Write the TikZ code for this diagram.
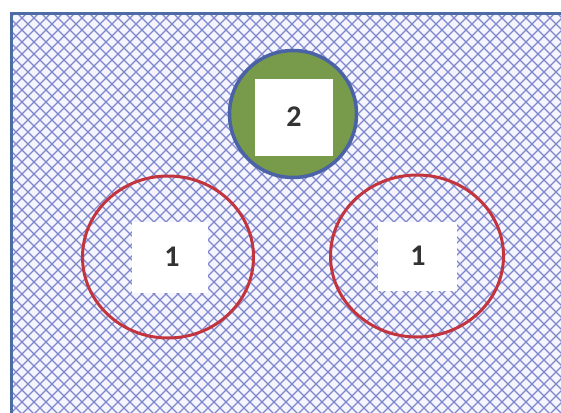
\documentclass[tikz,border=0pt]{standalone}
\usepackage{fontspec}
\setmainfont{Carlito}
\definecolor{hatch}{HTML}{7F86CC}
\definecolor{frame}{HTML}{4D6CA6}
\definecolor{ringred}{HTML}{C2353F}
\definecolor{olive}{HTML}{779A4B}
\definecolor{ringblue}{HTML}{4A62A6}
\definecolor{digit}{HTML}{333333}
\tikzset{
  digitfont/.style={font=\fontsize{30}{30}\selectfont\bfseries, text=digit},
  whitebox/.style={fill=white, inner sep=0pt},
  red ring/.style={draw=ringred, line width=3pt, ellipse, inner sep=0pt},
}
\usetikzlibrary{shapes.geometric}
\begin{document}
\begin{tikzpicture}[x=1pt,y=-1pt]
\useasboundingbox (0,0) rectangle (561,412);
\fill[white] (0,0) rectangle (561,412);
% hatched area
\begin{scope}
\clip (11,14) rectangle (565,416);
\fill[white!96!blue] (11,14) rectangle (565,416);
\foreach \i in {-500,-488,...,1000}{
  \draw[hatch, line width=1.2pt] (\i,0) -- (\i+420,420);
  \draw[hatch, line width=1.2pt] (\i,0) -- (\i-420,420);
}
\end{scope}
\draw[frame, line width=3pt] (11,420) -- (11,14) -- (570,14);
% top green circle
\node[circle, draw=ringblue, fill=olive, line width=3.5pt, minimum size=127pt, inner sep=0pt] (top) at (293,114) {};
\node[whitebox, minimum width=78pt, minimum height=77pt] (twobox) at (294,117) {};
\node[digitfont] (two) at (294,117) {2};
% red circles
\node[red ring, minimum width=171pt, minimum height=162pt] (left) at (168,257) {};
\node[red ring, minimum width=173pt, minimum height=162pt] (right) at (417,256) {};
\node[whitebox, minimum width=76pt, minimum height=71pt] (lbox) at (170,257) {};
\node[digitfont] (one) at (172,257) {1};
\node[whitebox, minimum width=79pt, minimum height=69pt] (rbox) at (417,256) {};
\node[digitfont] (one2) at (418,256) {1};
\end{tikzpicture}
\end{document}
